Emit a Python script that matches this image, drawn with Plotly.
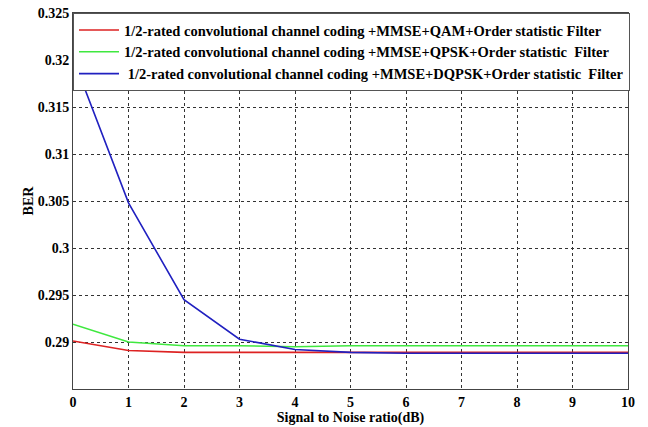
import plotly.graph_objects as go

snr = [0, 1, 2, 3, 4, 5, 6, 7, 8, 9, 10]
ber_qam = [0.2901, 0.2891, 0.2889, 0.2889, 0.2889, 0.2889, 0.2889, 0.2889, 0.2889, 0.2889, 0.2889]
ber_qpsk = [0.2919, 0.2900, 0.2896, 0.2896, 0.2895, 0.2896, 0.2896, 0.2896, 0.2896, 0.2896, 0.2896]
ber_dqpsk = [0.3202, 0.3048, 0.2945, 0.2903, 0.2892, 0.2889, 0.2888, 0.2888, 0.2888, 0.2888, 0.2888]

names = [
    "1/2-rated convolutional channel coding +MMSE+QAM+Order statistic Filter",
    "1/2-rated convolutional channel coding +MMSE+QPSK+Order statistic  Filter",
    " 1/2-rated convolutional channel coding +MMSE+DQPSK+Order statistic  Filter",
]
colors = ["#dd2222", "#3fe83f", "#2020c0"]

fig = go.Figure()
for ys, nm, c in zip([ber_qam, ber_qpsk, ber_dqpsk], names, colors):
    fig.add_trace(go.Scatter(x=snr, y=ys, mode="lines", name=nm,
                             line=dict(color=c, width=1.6)))

FONT = "Liberation Serif"
tick_font = dict(family=FONT, size=14, color="black", weight="bold")
axis_common = dict(showline=True, linecolor="#444", linewidth=1, mirror=True,
                   showgrid=True, gridcolor="#333", griddash="dot", gridwidth=1,
                   ticks="", zeroline=False, automargin=False,
                   tickfont=tick_font)

fig.update_layout(
    width=648, height=427,
    margin=dict(l=73, r=20, t=13, b=38),
    paper_bgcolor="white", plot_bgcolor="white",
    font=dict(family=FONT, size=14, color="black"),
    showlegend=True,
    legend=dict(x=0, y=1, xanchor="left", yanchor="top",
                bgcolor="white", bordercolor="#555", borderwidth=1,
                font=dict(family=FONT, size=14.5, color="black", weight="bold"),
                tracegroupgap=0, itemwidth=40),
    xaxis=dict(range=[0, 10], dtick=1,
               title=dict(text="Signal to Noise ratio(dB)", standoff=0,
                          font=dict(family=FONT, size=14, weight="bold")),
               **axis_common),
    yaxis=dict(range=[0.285, 0.325],
               tickvals=[0.29, 0.295, 0.3, 0.305, 0.31, 0.315, 0.32, 0.325],
               ticktext=["0.29", "0.295", "0.3", "0.305", "0.31", "0.315", "0.32", "0.325"],
               title=dict(text="BER", standoff=0,
                          font=dict(family=FONT, size=14, weight="bold")),
               **axis_common),
)

fig.write_html("out.html", config={"displayModeBar": False},
               post_script="document.body.style.margin='0';")
